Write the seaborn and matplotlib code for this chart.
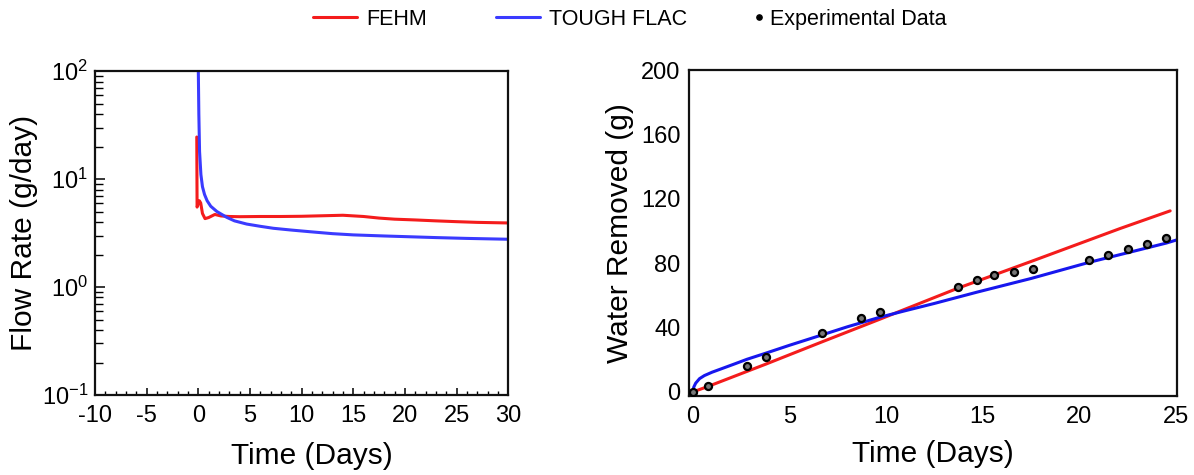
import numpy as np
import pandas as pd
import matplotlib
matplotlib.use("Agg")
import matplotlib.pyplot as plt
from matplotlib.ticker import MultipleLocator, LogLocator, NullFormatter
from matplotlib.lines import Line2D
from matplotlib.legend_handler import HandlerBase
import seaborn as sns

# ---- data: left panel (flow rate, g/day) ----
fehm_rate_t = [-0.15, -0.12, 0.1, 0.23, 0.4, 0.65, 1.0, 1.6, 2.2, 3, 4, 6, 8, 10, 12, 14, 16, 17.5, 19, 21, 23, 25, 27, 30]
fehm_rate = [24.5, 5.5, 6.3, 6.0, 4.8, 4.3, 4.4, 4.7, 4.55, 4.5, 4.48, 4.5, 4.5, 4.52, 4.57, 4.62, 4.5, 4.35, 4.25, 4.18, 4.1, 4.03, 3.97, 3.92]
tough_rate_t = [0.0, 0.05, 0.12, 0.25, 0.4, 0.6, 0.85, 1.2, 1.8, 2.75, 3.5, 4.68, 6, 7.26, 9, 10.84, 13, 15, 18, 20, 23, 26, 30]
tough_rate = [100, 40, 18, 11, 8.5, 7.2, 6.3, 5.6, 5.0, 4.42, 4.1, 3.83, 3.65, 3.5, 3.37, 3.25, 3.12, 3.04, 2.97, 2.93, 2.87, 2.82, 2.77]

# ---- data: right panel (cumulative water removed, g) ----
fehm_cum_t = [0, 0.8, 3.8, 6.7, 9.7, 13.7, 17.6, 22.1, 24.7]
fehm_cum = [0, 3.5, 17.4, 31.2, 45.3, 64.4, 81.5, 101.5, 112.5]
tough_cum_t = [0, 0.05, 0.15, 0.35, 0.6, 1.0, 1.5, 2.2, 2.8, 3.8, 5, 6.7, 8, 9.7, 11, 12.5, 14.7, 17.5, 20.5, 22.5, 24.5, 25.05]
tough_cum = [0, 3.0, 5.5, 8.3, 10.2, 12.3, 14.5, 17.6, 20.3, 24.2, 29, 35.5, 40.5, 46.5, 50.5, 55, 62, 70.5, 80.5, 86.5, 92.5, 94.5]
exp_t = [0, 0.8, 2.8, 3.8, 6.7, 8.7, 9.7, 13.7, 14.7, 15.6, 16.6, 17.6, 20.5, 21.5, 22.5, 23.5, 24.5]
exp_w = [0, 4, 16.1, 21.6, 36.8, 46.1, 49.9, 65.4, 69.6, 72.9, 74.7, 76.4, 82.0, 85.1, 88.6, 92.1, 95.8]

left_xticks = [-10, -5, 0, 5, 10, 15, 20, 25, 30]
right_xticks = [0, 5, 10, 15, 20, 25]
right_yticks = [0, 40, 80, 120, 160, 200]

RED = "#f41c1c"
BLUE_L = "#3b3bff"
BLUE_R = "#1717ee"

sns.set_style("white")
plt.rcParams["font.family"] = ["Liberation Sans", "DejaVu Sans"]
plt.rcParams["mathtext.fontset"] = "custom"
plt.rcParams["mathtext.rm"] = "Liberation Sans"
plt.rcParams["mathtext.it"] = "Liberation Sans"
for k in ["text.color", "axes.labelcolor", "xtick.color", "ytick.color"]:
    plt.rcParams[k] = "black"

TICK_FS = 17
LABEL_FS = 21.5
LEG_FS = 15.5

fig = plt.figure(figsize=(11.94, 4.75), dpi=100)
axL = fig.add_axes([0.0796, 0.1684, 0.346, 0.682])
axR = fig.add_axes([0.577, 0.1663, 0.4087, 0.6863])

# left panel
df_fr = pd.DataFrame({"t": fehm_rate_t, "v": fehm_rate})
df_tr = pd.DataFrame({"t": tough_rate_t, "v": tough_rate})
sns.lineplot(data=df_fr, x="t", y="v", ax=axL, color=RED, lw=2.2, sort=False, estimator=None)
sns.lineplot(data=df_tr, x="t", y="v", ax=axL, color=BLUE_L, lw=2.2, sort=False, estimator=None)
axL.set_yscale("log")
axL.set_xlim(-10, 30)
axL.set_ylim(0.1, 100)
axL.set_xticks(left_xticks)
axL.set_xticklabels([str(v) for v in left_xticks])
axL.xaxis.set_minor_locator(MultipleLocator(1))
axL.yaxis.set_major_locator(LogLocator(base=10, numticks=10))
axL.yaxis.set_minor_locator(LogLocator(base=10, subs=np.arange(2, 10), numticks=20))
axL.yaxis.set_minor_formatter(NullFormatter())
axL.tick_params(axis="x", which="major", direction="in", length=5, width=1.1, bottom=True, top=False, labelsize=TICK_FS, pad=7)
axL.tick_params(axis="x", which="minor", direction="in", length=2.8, width=1.0, bottom=True, top=False)
axL.tick_params(axis="y", which="major", direction="in", length=7, width=1.1, left=True, right=False, labelsize=TICK_FS, pad=5)
axL.tick_params(axis="y", which="minor", direction="in", length=5.5, width=1.0, left=True, right=False)
axL.set_xlabel("Time (Days)", fontsize=LABEL_FS)
axL.set_ylabel("Flow Rate (g/day)", fontsize=LABEL_FS)
axL.xaxis.set_label_coords(0.525, -0.145)
axL.yaxis.set_label_coords(-0.138, 0.5)

# right panel
df_fc = pd.DataFrame({"t": fehm_cum_t, "v": fehm_cum})
df_tc = pd.DataFrame({"t": tough_cum_t, "v": tough_cum})
df_ex = pd.DataFrame({"t": exp_t, "v": exp_w})
sns.lineplot(data=df_fc, x="t", y="v", ax=axR, color=RED, lw=2.2, estimator=None)
sns.lineplot(data=df_tc, x="t", y="v", ax=axR, color=BLUE_R, lw=2.2, estimator=None)
sns.scatterplot(data=df_ex, x="t", y="v", ax=axR, marker="o", s=26, facecolor="#777777",
                edgecolor="black", linewidth=1.6, zorder=5)
axR.set_xlim(-0.2, 25.05)
axR.set_ylim(-2.5, 200)
axR.set_xticks(right_xticks)
axR.set_yticks(right_yticks)
axR.tick_params(axis="both", which="both", length=0, labelsize=TICK_FS)
axR.tick_params(axis="x", pad=7)
axR.tick_params(axis="y", pad=6)
axR.set_xlabel("Time (Days)", fontsize=LABEL_FS, labelpad=9)
axR.set_ylabel("Water Removed (g)", fontsize=LABEL_FS)
axR.yaxis.set_label_coords(-0.113, 0.5)

for ax in (axL, axR):
    for s in ax.spines.values():
        s.set_color("#111111")
        s.set_linewidth(1.6)
        s.set_visible(True)


class DotHandler(HandlerBase):
    def create_artists(self, legend, orig_handle, xdescent, ydescent, width, height, fontsize, trans):
        dot = Line2D([width / 2 - xdescent], [height / 2 - ydescent], marker="o", color="black",
                     markersize=3.8, lw=0, transform=trans)
        return [dot]


line_handles = [Line2D([], [], color=RED, lw=2.2), Line2D([], [], color=BLUE_L, lw=2.2)]
leg1 = fig.legend(line_handles, ["FEHM", "TOUGH FLAC"], loc="upper left",
                  bbox_to_anchor=(313 / 1194, 0.982), ncol=2, frameon=False, fontsize=LEG_FS,
                  handlelength=2.05, handletextpad=0.42, columnspacing=3.2,
                  borderpad=0, borderaxespad=0)
dot_handle = Line2D([], [], color="black", marker="o", lw=0)
leg2 = fig.legend([dot_handle], ["Experimental Data"], loc="upper left",
                  bbox_to_anchor=(755 / 1194, 0.982), frameon=False, fontsize=LEG_FS,
                  handlelength=0.4, handletextpad=0.3, borderpad=0, borderaxespad=0,
                  handler_map={Line2D: DotHandler()})

fig.savefig("out.png", dpi=100)
